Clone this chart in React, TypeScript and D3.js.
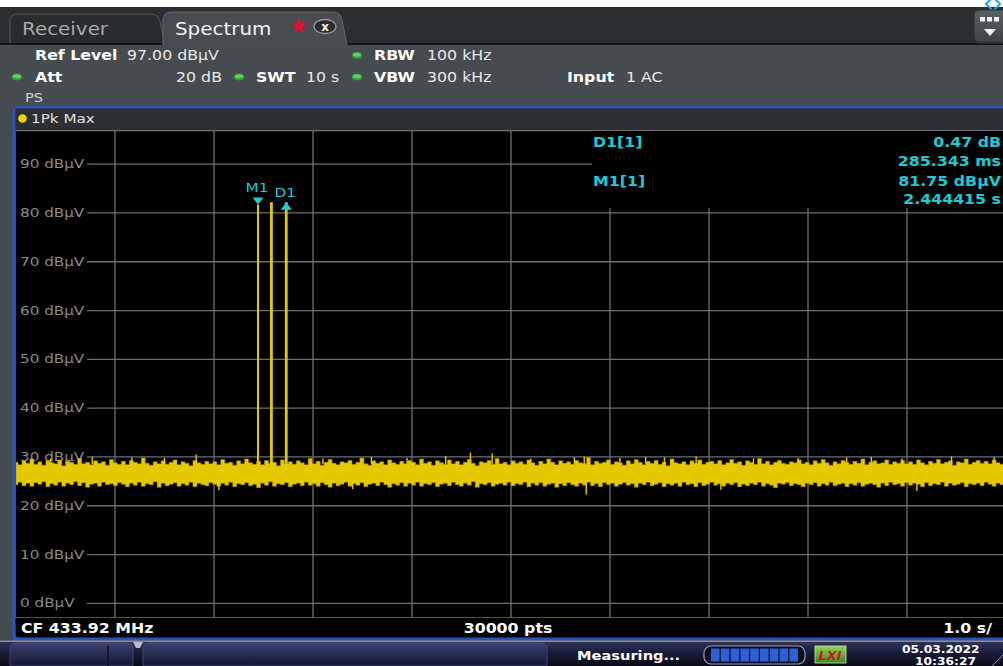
import React from 'react';
import * as d3 from 'd3';

// ---------- data ----------
const yTicks = [0, 10, 20, 30, 40, 50, 60, 70, 80, 90];
const xDivs = [1, 2, 3, 4, 5, 6, 7, 8, 9];
const sweepSeconds = [0, 10];
const levelRange = [-3, 97];

// peak-max envelope of the noise floor (dBµV), evenly spaced over the 10 s sweep
const noiseUpper = [
  28.9, 28.4, 29.2, 28.7, 29.6, 28.5, 29.0, 28.3, 29.3, 28.8, 28.6, 29.4, 28.2, 29.1, 28.9, 28.5, 29.7, 28.6, 28.9, 28.4, 29.2, 28.7, 29.0, 28.3, 29.5,
  28.8, 28.5, 29.1, 28.4, 29.3, 28.9, 28.6, 29.8, 28.7, 28.3, 29.0, 28.6, 29.2, 28.5, 28.9, 29.4, 28.4, 29.0, 28.7, 28.2, 29.3, 28.8, 28.5, 29.1, 28.6,
  29.0, 28.4, 29.5, 28.7, 28.9, 28.3, 29.2, 28.6, 29.6, 28.8, 28.5, 29.1, 28.4, 29.3, 28.7, 28.9, 28.2, 29.4, 28.6, 29.0, 28.5, 29.2, 28.8, 28.4, 29.7,
  28.6, 29.1, 28.3, 28.9, 29.5, 28.7, 28.4, 29.0, 28.8, 29.3, 28.5, 28.9, 29.8, 28.6, 28.3, 29.2, 28.7, 29.0, 28.4, 29.4, 28.8, 28.5, 29.1, 28.6, 29.3,
  28.9, 28.4, 29.6, 28.7, 29.0, 28.3, 29.2, 28.8, 28.5, 29.4, 28.6, 29.1, 28.4, 28.9, 29.5, 28.7, 28.2, 29.0, 28.8, 29.3, 28.5, 29.7, 28.6, 28.9, 28.4,
  29.2, 28.7, 29.0, 28.5, 29.4, 28.8, 28.3, 29.1, 28.6, 29.6, 28.9, 28.4, 29.2, 28.7, 29.0, 28.5, 29.3, 28.8, 28.6, 29.9, 28.4, 29.1, 28.7, 28.9, 29.4,
  28.5, 29.0, 28.8, 28.3, 29.2, 28.6, 29.5, 28.9, 28.4, 29.1, 28.7, 29.3, 28.5, 28.9, 28.2, 29.6, 28.8, 28.6, 29.0, 28.4, 29.2, 28.7, 29.4, 28.5, 28.9,
  29.1, 28.6, 29.3, 28.4, 28.8, 29.5, 28.7, 29.0, 28.3, 29.2, 28.9, 28.5, 29.7, 28.6, 29.1, 28.4, 28.9, 29.3, 28.7, 28.5, 29.0, 28.8, 29.4, 28.6, 28.9,
  28.4, 29.2, 28.7, 29.5, 28.8, 28.3, 29.0, 28.6, 29.3, 28.9, 28.5, 29.1, 28.7, 29.6, 28.4, 28.9, 29.2, 28.6, 28.8, 29.4, 28.5, 29.0, 28.7, 29.3, 28.6,
  29.0, 28.5, 29.4, 28.8, 28.4, 29.1, 28.7, 29.5, 28.6, 28.9, 29.2, 28.3, 29.0, 28.8, 29.6, 28.5, 28.9, 29.3, 28.7, 29.1, 28.6, 29.4, 28.8, 28.5, 29.0,
];
const noiseLower = [
  24.3, 24.8, 24.1, 24.6, 24.0, 24.7, 24.4, 24.9, 23.9, 24.5, 24.2, 24.8, 24.0, 24.6, 24.3, 24.9, 24.1, 24.7, 23.8, 24.4, 24.6, 24.0, 24.8, 24.3, 24.5,
  24.1, 24.7, 24.4, 23.9, 24.6, 24.2, 24.8, 24.0, 24.5, 24.3, 24.9, 23.8, 24.6, 24.1, 24.4, 24.7, 24.0, 24.5, 24.2, 24.8, 23.9, 24.6, 24.3, 24.1, 24.7,
  24.4, 24.0, 24.6, 24.2, 24.8, 23.9, 24.5, 24.3, 24.7, 24.1, 24.4, 23.7, 24.6, 24.2, 24.9, 24.0, 24.5, 24.3, 24.7, 23.9, 24.4, 24.6, 24.1, 24.8, 24.2,
  24.5, 24.0, 24.7, 24.3, 23.8, 24.6, 24.1, 24.4, 24.8, 24.0, 24.5, 24.2, 24.7, 23.9, 24.4, 24.6, 24.1, 24.8, 24.3, 23.8, 24.5, 24.2, 24.7, 24.0, 24.6,
  24.2, 24.8, 24.0, 24.5, 24.3, 24.7, 23.9, 24.4, 24.6, 24.1, 24.8, 24.3, 24.0, 24.6, 24.2, 24.9, 23.8, 24.5, 24.3, 24.7, 24.0, 24.4, 24.6, 24.2, 24.8,
  24.1, 24.5, 24.3, 24.8, 23.9, 24.6, 24.2, 24.7, 24.0, 24.4, 24.6, 23.8, 24.5, 24.1, 24.7, 24.3, 24.0, 24.6, 24.2, 24.8, 24.1, 24.5, 23.9, 24.7, 24.3,
  24.6, 24.0, 24.4, 24.7, 24.2, 24.5, 23.8, 24.6, 24.3, 24.8, 24.1, 24.4, 24.7, 23.9, 24.5, 24.2, 24.6, 24.0, 24.8, 24.3, 24.5, 23.9, 24.7, 24.1, 24.4,
  24.8, 24.2, 24.5, 24.0, 24.6, 24.3, 24.7, 23.9, 24.4, 24.1, 24.6, 24.3, 24.8, 24.0, 24.5, 24.2, 23.7, 24.6, 24.4, 24.7, 24.1, 24.5, 24.3, 23.9, 24.6,
  24.3, 24.7, 24.0, 24.5, 24.2, 24.8, 24.1, 24.4, 24.6, 23.9, 24.5, 24.2, 24.7, 24.0, 24.4, 24.6, 24.3, 23.8, 24.6, 24.1, 24.8, 24.3, 24.5, 24.0, 24.7,
  24.2, 24.6, 24.4, 23.9, 24.7, 24.1, 24.5, 24.3, 24.8, 24.0, 24.6, 24.2, 24.4, 24.7, 23.9, 24.5, 24.3, 24.6, 24.1, 24.8, 24.4, 24.0, 24.6, 24.3, 24.5,
];
// isolated noise spikes: time (s) and level (dBµV)
const spikeTimes = [0.77, 1.17, 1.82, 3.59, 4.34, 4.59, 4.81, 5.64, 5.74, 6.36, 6.55, 6.87, 8.39, 8.64, 9.45, 9.88, 0.35, 1.5, 3.1, 3.95, 5.2, 6.1, 7.45, 7.9, 8.95, 2.05, 5.76, 7.12, 9.1, 3.4];
const spikeLevels = [30.0, 29.9, 30.5, 30.0, 30.2, 30.9, 30.7, 29.9, 30.1, 30.0, 29.9, 30.1, 29.9, 30.0, 30.1, 30.0, 29.7, 29.8, 29.7, 29.8, 29.7, 29.8, 29.7, 29.8, 29.7, 23.2, 22.3, 23.3, 23.0, 23.4];

// burst pulses: time (s) and peak (dBµV)
const pulseTimes = [2.444415, 2.58, 2.729758];
const pulseLevels = [81.75, 82.2, 82.22];
const pulseWidths = [2, 2.8, 2.8];

const markerNames = ['M1', 'D1'];
const markerTimes = [2.444415, 2.729758];
const markerLevels = [81.75, 82.22];

const tableRows = [
  ['D1[1]', '0.47 dB', '285.343 ms'],
  ['M1[1]', '81.75 dBµV', '2.444415 s'],
];

// ---------- layout ----------
const W = 1003;
const H = 666;
const PL = 16, PR = 1006, PT = 130, PB = 618;
const SX = 1.17;
const FONT = 'DejaVu Sans, Verdana, sans-serif';
const YEL = '#e6c800';
const CYAN = '#1ccbd3';

const xScale = d3.scaleLinear().domain(sweepSeconds).range([PL, PR]);
const yScale = d3.scaleLinear().domain(levelRange).range([PB, PT]);

type TP = { x: number; y: number; children: React.ReactNode; size?: number; weight?: string | number; fill?: string; anchor?: 'start' | 'middle' | 'end'; sx?: number; italic?: boolean };
const T = ({ x, y, children, size = 13.5, weight = 'normal', fill = '#fff', anchor = 'start', sx = SX, italic = false }: TP) => (
  <text transform={`translate(${x},${y}) scale(${sx},1)`} fontSize={size} fontWeight={weight} fill={fill} textAnchor={anchor} fontFamily={FONT} fontStyle={italic ? 'italic' : 'normal'}>
    {children}
  </text>
);

const Dot = ({ cx, cy }: { cx: number; cy: number }) => (
  <g>
    <ellipse cx={cx} cy={cy} rx={5.5} ry={3.6} fill="#2f9a3a" />
    <ellipse cx={cx} cy={cy - 0.8} rx={4} ry={2} fill="#5fd16a" />
  </g>
);

function starPath(cx: number, cy: number, r1: number, r2: number) {
  const pts: string[] = [];
  for (let i = 0; i < 10; i++) {
    const a = -Math.PI / 2 + (i * Math.PI) / 5;
    const r = i % 2 === 0 ? r1 : r2;
    pts.push(`${cx + r * Math.cos(a)},${cy + r * Math.sin(a)}`);
  }
  return `M${pts.join('L')}Z`;
}

export default function App() {
  const n = noiseUpper.length;
  const tAt = (i: number) => (sweepSeconds[1] * i) / (n - 1);
  const band = d3
    .area<number>()
    .x((_, i) => xScale(tAt(i)))
    .y0((_, i) => yScale(noiseLower[i]))
    .y1((d) => yScale(d))
    .curve(d3.curveStep)(noiseUpper) as string;

  const tableX = 592;
  const tableBottom = 208;

  return (
    <svg width={W} height={H} style={{ position: 'absolute', left: 0, top: 0, display: 'block' }} xmlns="http://www.w3.org/2000/svg">
      <defs>
        <clipPath id="plot">
          <rect x={PL} y={PT} width={W - PL} height={PB - PT} />
        </clipPath>
        <linearGradient id="navy" x1="0" y1="0" x2="0" y2="1">
          <stop offset="0" stopColor="#30355c" />
          <stop offset="0.5" stopColor="#181b36" />
          <stop offset="1" stopColor="#0a0b18" />
        </linearGradient>
        <linearGradient id="btn" x1="0" y1="0" x2="0" y2="1">
          <stop offset="0" stopColor="#3a4070" />
          <stop offset="1" stopColor="#141733" />
        </linearGradient>
        <linearGradient id="lxi" x1="0" y1="0" x2="0" y2="1">
          <stop offset="0" stopColor="#8fd35a" />
          <stop offset="1" stopColor="#3a8a1c" />
        </linearGradient>
        <linearGradient id="menu" x1="0" y1="0" x2="0" y2="1">
          <stop offset="0" stopColor="#5a6166" />
          <stop offset="1" stopColor="#3a4044" />
        </linearGradient>
      </defs>

      {/* page background */}
      <rect x={0} y={0} width={W} height={H} fill="#ffffff" />

      {/* tab bar */}
      <rect x={0} y={7} width={W} height={38} fill="#2a2e31" />
      <path d="M10,44 L10,21 Q10,14 18,14 L150,14 Q158,14 160,21 L165,44 Z" fill="#282c2f" stroke="#555b5f" strokeWidth={1} />
      <rect x={0} y={43} width={W} height={2} fill="#121416" />
      <path d="M163,45 L163,20 Q163,12 172,12 L333,12 Q341,12 342,20 L347,45 Z" fill="#464c4f" stroke="#62686c" strokeWidth={1} />
      <rect x={164} y={42} width={182} height={4} fill="#464c4f" />
      <T x={22} y={35} size={17} fill="#a8a8a8">Receiver</T>
      <T x={175} y={35} size={17} fill="#f4f4f4">Spectrum</T>
      <path d={starPath(299, 26, 8.5, 3.6)} fill="#e8102a" />
      <ellipse cx={325} cy={26.5} rx={11} ry={7} fill="#2b2b2b" stroke="#9a9a9a" strokeWidth={1.3} />
      <T x={325} y={30.5} size={12} weight="bold" fill="#f0f0f0" anchor="middle" sx={1}>x</T>

      {/* top-right menu button */}
      <path d="M986,4 L993,-3 L1000,4 L993,11 Z" fill="none" stroke="#1aa8e0" strokeWidth={2} />
      <rect x={974} y={10} width={34} height={33} rx={5} fill="url(#menu)" stroke="#2a2e31" strokeWidth={1} />
      <rect x={980} y={17} width={5} height={4.5} fill="#f0f0f0" />
      <rect x={987} y={17} width={5} height={4.5} fill="#f0f0f0" />
      <rect x={994} y={17} width={5} height={4.5} fill="#f0f0f0" />
      <path d="M984,29 L996,29 L990,36 Z" fill="#f0f0f0" />

      {/* header panel */}
      <rect x={0} y={45} width={W} height={62} fill="#454b4e" />
      <T x={35} y={60} weight="bold">Ref Level</T>
      <T x={127} y={60} fill="#e8e8e8">97.00 dBµV</T>
      <Dot cx={357} cy={55.5} />
      <T x={374} y={60} weight="bold">RBW</T>
      <T x={427} y={60} fill="#e8e8e8">100 kHz</T>

      <Dot cx={17} cy={77} />
      <T x={35} y={82} weight="bold">Att</T>
      <T x={176} y={82} fill="#e8e8e8">20 dB</T>
      <Dot cx={239} cy={77} />
      <T x={256} y={82} weight="bold">SWT</T>
      <T x={306} y={82} fill="#e8e8e8">10 s</T>
      <Dot cx={357} cy={77} />
      <T x={374} y={82} weight="bold">VBW</T>
      <T x={427} y={82} fill="#e8e8e8">300 kHz</T>
      <T x={567} y={82} weight="bold">Input</T>
      <T x={626} y={82} fill="#e8e8e8">1 AC</T>
      <T x={25} y={102} size={12.5} fill="#d0d0d0">PS</T>

      {/* window frame */}
      <rect x={0} y={107} width={W} height={535} fill="#454b4e" />
      <path d={`M14,642 L14,113 Q14,107 20,107 L${W + 5},107`} fill="none" stroke="#2a55b8" strokeWidth={3} />
      <rect x={15.5} y={108.5} width={W} height={21.5} fill="#2b2f33" />
      <circle cx={22.5} cy={118.5} r={4.3} fill="#f2d500" />
      <T x={31} y={123} size={13} fill="#e0e0e0">1Pk Max</T>

      {/* plot background */}
      <rect x={PL} y={PT} width={W - PL} height={PB - PT} fill="#000" />
      <rect x={15.5} y={PB} width={W} height={20} fill="#000" />
      <path d={`M14,625 L14,634 Q14,639 20,639 L${W + 5},639`} fill="none" stroke="#2a55b8" strokeWidth={3} />

      <g clipPath="url(#plot)">
        {/* vertical grid */}
        {xDivs.map((d) => (
          <line key={d} x1={xScale(d)} x2={xScale(d)} y1={xScale(d) > tableX ? tableBottom : PT} y2={PB} stroke="#6e6e6e" strokeWidth={1.3} />
        ))}
        {/* horizontal grid + labels */}
        {yTicks.map((v) => (
          <g key={v}>
            <line x1={87} x2={v === 90 ? tableX : W} y1={yScale(v)} y2={yScale(v)} stroke="#6e6e6e" strokeWidth={1.3} />
            <T x={20} y={yScale(v) + 4} size={13} fill="#8a8a8a">{`${v} dBµV`}</T>
          </g>
        ))}
        <line x1={PL} x2={W} y1={PT + 0.5} y2={PT + 0.5} stroke="#6e6e6e" strokeWidth={1.3} />
        <line x1={PL} x2={W} y1={PB} y2={PB} stroke="#6e6e6e" strokeWidth={1.3} />

        {/* noise floor */}
        <path d={band} fill={YEL} stroke="#a88f00" strokeWidth={0.5} />
        {spikeTimes.map((t, i) => (
          <line key={i} x1={xScale(t)} x2={xScale(t)} y1={yScale(spikeLevels[i] > 27 ? 28.5 : 24.8)} y2={yScale(spikeLevels[i])} stroke={YEL} strokeWidth={1.4} />
        ))}
        {/* pulses */}
        {pulseTimes.map((t, i) => (
          <line key={i} x1={xScale(t)} x2={xScale(t)} y1={yScale(26)} y2={yScale(pulseLevels[i])} stroke={YEL} strokeWidth={pulseWidths[i]} />
        ))}

        {/* markers */}
        {markerTimes.map((t, i) => {
          const x = xScale(t);
          const y = yScale(markerLevels[i]);
          const down = i === 0;
          const tri = down
            ? `M${x - 5.5},${y - 7} L${x + 5.5},${y - 7} L${x},${y} Z`
            : `M${x - 5.5},${y + 7.5} L${x + 5.5},${y + 7.5} L${x},${y} Z`;
          return (
            <g key={markerNames[i]}>
              <path d={tri} fill={CYAN} />
              <T x={x - 1} y={down ? y - 12 : y - 5} size={13} fill={CYAN} anchor="middle">{markerNames[i]}</T>
            </g>
          );
        })}

        {/* marker table */}
        <rect x={tableX} y={PT + 1.5} width={W - tableX} height={tableBottom - PT - 1.5} fill="#000" />
        {tableRows.map((r, i) => (
          <g key={r[0]}>
            <T x={593} y={147 + i * 39} weight="bold" fill={CYAN} size={13.5}>{r[0]}</T>
            <T x={1001} y={147 + i * 39} weight="bold" fill={CYAN} size={13.5} anchor="end">{r[1]}</T>
            <T x={1001} y={166 + i * 38} weight="bold" fill={CYAN} size={13.5} anchor="end">{r[2]}</T>
          </g>
        ))}
      </g>

      {/* status line */}
      <T x={21} y={633} weight="bold" size={13.5}>CF 433.92 MHz</T>
      <T x={508} y={633} weight="bold" size={13.5} anchor="middle">30000 pts</T>
      <T x={992} y={633} weight="bold" size={13.5} anchor="end">1.0 s/</T>

      {/* bottom bar */}
      <rect x={0} y={641} width={W} height={25} fill="url(#navy)" />
      <rect x={0} y={640.5} width={W} height={1.5} fill="#8a8fa0" />
      <path d="M10,666 L10,649 Q10,643 17,643 L126,643 Q133,643 133,649 L133,666 Z" fill="url(#btn)" stroke="#4a5080" strokeWidth={0.8} />
      <line x1={108} x2={108} y1={646} y2={666} stroke="#0e1022" strokeWidth={1.5} />
      <path d="M133,642 L143,642 L140,648 L136,648 Z" fill="#b8bcc8" />
      <path d="M143,666 L143,649 Q143,643 150,643 L540,643 Q547,643 547,649 L547,666 Z" fill="url(#btn)" stroke="#4a5080" strokeWidth={0.8} />
      <T x={577} y={660} weight="bold" size={12.5}>Measuring...</T>
      <rect x={704} y={646} width={101} height={18} rx={7} fill="#0b0d1c" stroke="#9aa0b8" strokeWidth={1.2} />
      {d3.range(9).map((i) => (
        <rect key={i} x={711 + i * 9.8} y={648.5} width={8.6} height={13} fill="#2d5fd6" />
      ))}
      <rect x={815} y={646} width={31} height={17} fill="url(#lxi)" stroke="#c8e6b0" strokeWidth={0.8} />
      <T x={830} y={660} weight="bold" size={13} fill="#d01818" anchor="middle" sx={1} italic>LXI</T>
      <T x={902} y={653} weight="bold" size={10.5}>05.03.2022</T>
      <T x={915} y={664.5} weight="bold" size={10.5}>10:36:27</T>
      <line x1={992} y1={666} x2={1003} y2={655} stroke="#8a8fa0" strokeWidth={1} />
    </svg>
  );
}
